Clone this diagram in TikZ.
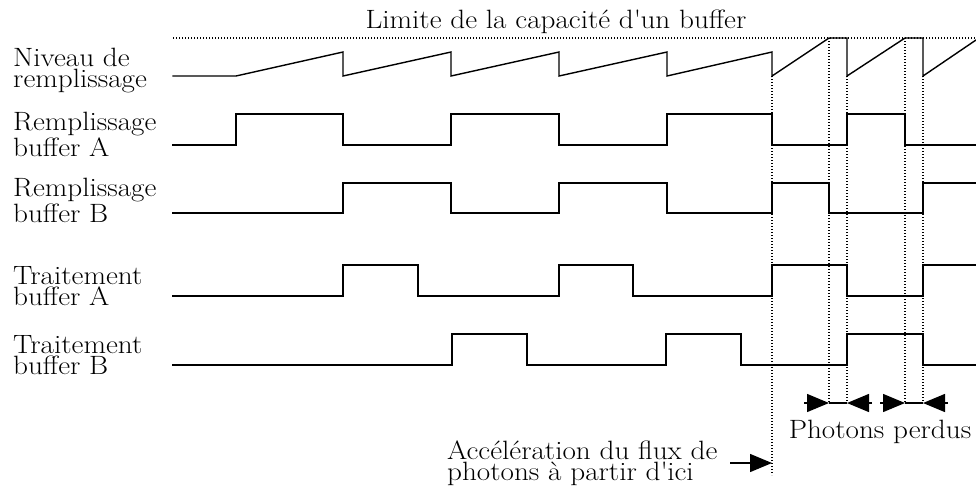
\documentclass[tikz,border=0pt]{standalone}
\usepackage{fontspec}
\setmainfont{Latin Modern Roman}[FakeStretch=1.1]
\usetikzlibrary{arrows.meta}
\begin{document}
\begin{tikzpicture}[x=1pt,y=-1pt,
  sig/.style={line width=1.4pt, line join=miter, line cap=rect},
  dots/.style={line width=1.1pt, dash pattern=on 1.3pt off 1.7pt},
  lbl/.style={font=\fontsize{26.5}{21}\selectfont, align=left, inner sep=0pt, anchor=base west},
  txt/.style={font=\fontsize{26.5}{21}\selectfont, inner sep=0pt},
  tri/.style={line width=1.4pt, -{Triangle[length=22pt,width=18pt]}}]
\useasboundingbox (0,0) rectangle (976,491);

% labels (anchor = baseline of the last line)
\node[txt, anchor=base] (title) at (556,28) {Limite de la capacit\'e d\textquotesingle un buffer};
\node[lbl] (lniv) at (13,87) {Niveau de\\remplissage};
\node[lbl] (lra) at (13,156) {Remplissage\\buffer A};
\node[lbl] (lrb) at (13,222) {Remplissage\\buffer B};
\node[lbl] (lta) at (13,305) {Traitement\\buffer A};
\node[lbl] (ltb) at (13,374) {Traitement\\buffer B};

% limit line
\draw[dots] (173,38) -- (976,38);

% vertical dotted guides
\coordinate (vF) at (772,475);
\coordinate (vG) at (829,403);
\coordinate (vH) at (847,403);
\coordinate (vI) at (905,403);
\coordinate (vJ) at (923,403);
\draw[dots] (772,76) -- (vF);
\draw[dots] (829,38) -- (vG);
\draw[dots] (847,76) -- (vH);
\draw[dots] (905,38) -- (vI);
\draw[dots] (923,76) -- (vJ);

% Niveau de remplissage
\draw[sig] (173,76) -- (236,76) -- (343,52) -- (343,76) -- (451,52) -- (451,76)
  -- (559,52) -- (559,76) -- (667,52) -- (667,76) -- (772,52) -- (772,76)
  -- (829,38) -- (847,38) -- (847,76) -- (905,38) -- (923,38) -- (923,76) -- (976,40);

% Remplissage buffer A
\draw[sig] (173,145) -- (236,145) -- (236,114) -- (343,114) -- (343,145) -- (451,145)
  -- (451,114) -- (559,114) -- (559,145) -- (667,145) -- (667,114) -- (772,114)
  -- (772,145) -- (847,145) -- (847,114) -- (905,114) -- (905,145) -- (976,145);

% Remplissage buffer B
\draw[sig] (173,213) -- (343,213) -- (343,183) -- (451,183) -- (451,213) -- (559,213)
  -- (559,183) -- (667,183) -- (667,213) -- (772,213) -- (772,183) -- (829,183)
  -- (829,213) -- (923,213) -- (923,183) -- (976,183);

% Traitement buffer A
\draw[sig] (173,296) -- (343,296) -- (343,265) -- (418,265) -- (418,296) -- (559,296)
  -- (559,265) -- (633,265) -- (633,296) -- (772,296) -- (772,265) -- (847,265)
  -- (847,296) -- (923,296) -- (923,265) -- (976,265);

% Traitement buffer B
\draw[sig] (173,365) -- (452,365) -- (452,334) -- (527,334) -- (527,365) -- (666,365)
  -- (666,334) -- (741,334) -- (741,365) -- (847,365) -- (847,334) -- (923,334)
  -- (923,365) -- (976,365);

% lost photons markers
\coordinate (a1) at (804,403);
\coordinate (a2) at (872,403);
\coordinate (a3) at (880,403);
\coordinate (a4) at (948,403);
\draw[tri] (a1) -- (vG);
\draw[line width=1.4pt] (vG) -- (vH);
\draw[tri] (a2) -- (vH);
\draw[tri] (a3) -- (vI);
\draw[line width=1.4pt] (vI) -- (vJ);
\draw[tri] (a4) -- (vJ);
\node[txt, anchor=base] (lost) at (880,438) {Photons perdus};

% acceleration note
\node[lbl] (acc) at (447,480) {Acc\'el\'eration du flux de\\photons \`a partir d\textquotesingle ici};
\coordinate (acct) at (772,463);
\draw[tri] (730,463) -- (acct);
\end{tikzpicture}
\end{document}
